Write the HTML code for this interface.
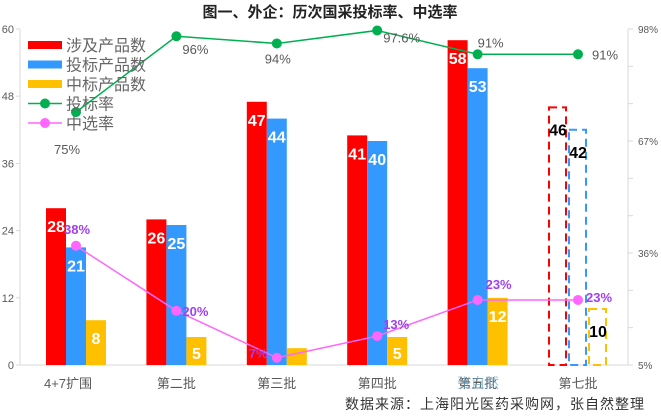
<!DOCTYPE html>
<html><head><meta charset="utf-8"><style>
body{margin:0;background:#fff;width:661px;height:415px;overflow:hidden}
text{font-family:"Liberation Sans","Noto Sans CJK SC",sans-serif}
</style></head><body>
<svg id="c" width="661" height="415"></svg>
<script>
const categories=["4+7扩围","第二批","第三批","第四批","第五批","第七批"];
const involved=[28,26,47,41,58,46];
const bid=[21,25,44,40,53,42];
const won=[8,5,3,5,12,10];
const bidRate=[75,96,94,97.6,91,91];
const selRate=[38,20,7,13,23,23];
const leftTicks=[0,12,24,36,48,60];
const rightTicks=[5,36,67,98];
const NS="http://www.w3.org/2000/svg";
const svg=document.getElementById('c');
function el(t,a,txt){const e=document.createElementNS(NS,t);for(const k in a)e.setAttribute(k,a[k]);if(txt!==undefined)e.textContent=txt;svg.appendChild(e);return e;}
const y0=365,yTop=29;
const yL=v=>y0-(v/60)*(y0-yTop);
const yR=v=>y0-((v-5)/93)*(y0-yTop);
const xC=i=>76+i*100.4;
const bw=20;
let t=el('text',{x:330,y:17,'text-anchor':'middle','font-size':15,'font-weight':'bold',fill:'#222'},'图一、外企：历次国采投标率、中选率');

let a=el('line',{x1:20,y1:yTop,x2:20,y2:y0,stroke:'#d9d9d9'});
a=el('line',{x1:20,y1:y0,x2:628,y2:y0,stroke:'#d9d9d9'});
a=el('line',{x1:628,y1:yTop,x2:628,y2:y0,stroke:'#d9d9d9'});
leftTicks.forEach(v=>{const y=yL(v);el('line',{x1:16,y1:y,x2:20,y2:y,stroke:'#d9d9d9'});
 const e=el('text',{x:14,y:y+4,'text-anchor':'end','font-size':11,fill:'#595959'},v);
 });
for(let k=0;k<=9;k++){const y=yTop+k*(y0-yTop)/9;el('line',{x1:628,y1:y,x2:633,y2:y,stroke:'#d9d9d9'});}
rightTicks.forEach(v=>{const e=el('text',{x:638,y:yR(v)+4,'font-size':10,fill:'#595959'},v+'%');
 });
categories.forEach((c,i)=>{const e=el('text',{x:xC(i)+(i==0?-8:0),y:388,'text-anchor':'middle','font-size':13,fill:'#595959'},c);
 });
const series=[[involved,'#ff0000',-bw*1.5],[bid,'#3399ff',-bw*0.5],[won,'#ffc000',bw*0.5]];
series.forEach(([arr,col,off],s)=>{arr.forEach((v,i)=>{const x=xC(i)+off,y=yL(v),h=y0-y;let b;
 if(i==5){b=el('rect',{x:x+1,y:y,width:bw-3,height:h,fill:'none',stroke:col,'stroke-width':2,'stroke-dasharray':'8,5'});}
 else b=el('rect',{x:x,y:y,width:bw,height:h,fill:col});
 
 if(h<20&&i!=5)return;
 const ly=(s==2&&i!=5)?Math.min(y+24,y0-6):y+24;
 const l=el('text',{x:x+bw/2,y:i==5?y+28:ly,'text-anchor':'middle','font-size':16,'font-weight':'bold',fill:i==5?'#000':'#fff'},v);
 });});
function line(arr,col,name,lblCol,dy,dx,bold){const pts=arr.map((v,i)=>xC(i)+','+yR(v)).join(' ');
 const p=el('polyline',{points:pts,fill:'none',stroke:col,'stroke-width':1.5});
 arr.forEach((v,i)=>{const c=el('circle',{cx:xC(i),cy:yR(v),r:5,fill:col});
  const l=el('text',{x:xC(i)+dx[i],y:yR(v)+dy[i],'font-size':13,'font-weight':bold?'bold':'normal',fill:lblCol},v+'%');
  });}
line(bidRate,'#00b050','bid-rate','#595959',[42,18,20,12,-7,5],[-22,6,-12,6,0,14],false);
line(selRate,'#ff66ff','sel-rate','#a040f0',[-12,5,0,-7,-11,2],[-12,6,-28,6,8,8],true);
const leg=[['涉及产品数','#ff0000',0],['投标产品数','#3399ff',0],['中标产品数','#ffc000',0],['投标率','#00b050',1],['中选率','#ff66ff',1]];
leg.forEach(([n,c,ln],k)=>{const y=45+k*19.5;
 if(ln){el('line',{x1:28,y1:y,x2:62,y2:y,stroke:c,'stroke-width':1.5});el('circle',{cx:45,cy:y,r:5,fill:c});}
 else el('rect',{x:28,y:y-4,width:34,height:8,fill:c});
 const e=el('text',{x:66,y:y+6,'font-size':16,fill:'#666'},n);});
let w=el('text',{x:478,y:388,'text-anchor':'middle','font-size':14,fill:'#6fa8c8','fill-opacity':0.7},'张自然');
let f=el('text',{x:645,y:409,'text-anchor':'end','font-size':14,fill:'#333','letter-spacing':'1'},'数据来源：上海阳光医药采购网，张自然整理');

</script></body></html>
